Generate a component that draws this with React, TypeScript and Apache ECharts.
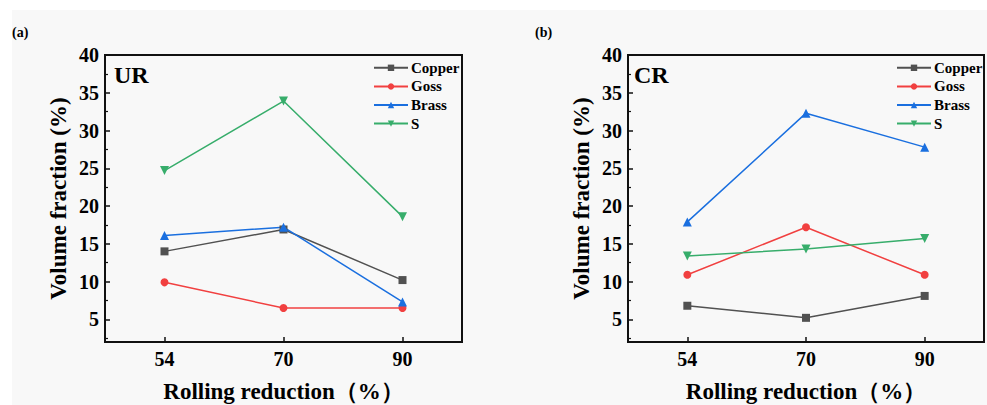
import React, { useEffect, useRef } from "react";
import * as echarts from "echarts";

const categories = ["54", "70", "90"];
const seriesNames = ["Copper", "Goss", "Brass", "S"];
const urCopper = [14.0, 16.9, 10.2];
const urGoss = [9.9, 6.5, 6.5];
const urBrass = [16.1, 17.2, 7.3];
const urS = [24.7, 33.9, 18.6];
const crCopper = [6.8, 5.2, 8.1];
const crGoss = [10.9, 17.2, 10.9];
const crBrass = [17.9, 32.3, 27.8];
const crS = [13.4, 14.3, 15.7];
const majorTicks = [5, 10, 15, 20, 25, 30, 35, 40];
const minorTicks = [2.5, 7.5, 12.5, 17.5, 22.5, 27.5, 32.5, 37.5];
const panelLabels = ["(a)", "(b)"];
const panelTags = ["UR", "CR"];

const colors = ["#515151", "#F14040", "#1A6FDF", "#37AD6B"];
const symbols = ["rect", "circle", "triangle", "path://M0,0 L10,0 L5,8.66 Z"];
const FONT = "Liberation Serif";

export default function App() {
  const ref = useRef<HTMLDivElement>(null);
  useEffect(() => {
    if (!ref.current) return;
    const chart = echarts.init(ref.current, undefined, { renderer: "svg" });
    const grids = [
      { left: 105, top: 55, width: 357, height: 287 },
      { left: 628, top: 55, width: 356, height: 287 },
    ];
    const data = [
      [urCopper, urGoss, urBrass, urS],
      [crCopper, crGoss, crBrass, crS],
    ];
    const xAxis: any[] = [];
    const yAxis: any[] = [];
    const series: any[] = [];
    const legend: any[] = [];
    grids.forEach((g, gi) => {
      xAxis.push({
        type: "category",
        gridIndex: gi,
        data: categories,
        boundaryGap: true,
        name: "Rolling reduction（%）",
        nameLocation: "middle",
        nameGap: 38,
        nameTextStyle: { fontFamily: FONT, fontWeight: "bold", fontSize: 23, color: "#000" },
        axisLine: { lineStyle: { color: "#111", width: 2 } },
        axisTick: { show: true, inside: true, alignWithLabel: true, length: 5, lineStyle: { color: "#111", width: 1.5 } },
        axisLabel: { fontFamily: FONT, fontWeight: "bold", fontSize: 20, color: "#000", margin: 7 },
        splitLine: { show: false },
      });
      yAxis.push({
        type: "value",
        gridIndex: gi,
        position: "left",
        min: 2,
        max: 40,
        name: "Volume fraction (%)",
        nameLocation: "middle",
        nameGap: 35,
        nameRotate: 90,
        nameTextStyle: { fontFamily: FONT, fontWeight: "bold", fontSize: 23, color: "#000" },
        axisLine: { show: true, lineStyle: { color: "#111", width: 2 } },
        axisTick: { show: true, inside: true, length: 5, customValues: majorTicks, lineStyle: { color: "#111", width: 1.5 } },
        axisLabel: { customValues: majorTicks, fontFamily: FONT, fontWeight: "bold", fontSize: 20, color: "#000", margin: 6 },
        splitLine: { show: false },
      });
      yAxis.push({
        type: "value",
        gridIndex: gi,
        position: "left",
        min: 2,
        max: 40,
        axisLine: { show: false },
        axisTick: { show: true, inside: true, length: 3, customValues: minorTicks, lineStyle: { color: "#111", width: 1.2 } },
        axisLabel: { show: false },
        splitLine: { show: false },
      });
      data[gi].forEach((vals, si) => {
        series.push({
          type: "line",
          name: seriesNames[si],
          xAxisIndex: gi,
          yAxisIndex: gi * 2,
          data: vals,
          symbol: symbols[si],
          symbolSize: si >= 2 ? 9 : 8,
          color: colors[si],
          lineStyle: { width: 1.5, color: colors[si] },
          itemStyle: { color: colors[si] },
        });
      });
      legend.push({
        orient: "vertical",
        left: gi === 0 ? 373 : 896,
        top: 60,
        padding: 0,
        itemWidth: 34,
        itemHeight: 8,
        itemGap: 3,
        data: seriesNames.map((n) => ({ name: n })),
        textStyle: { fontFamily: FONT, fontWeight: "bold", fontSize: 15, color: "#000", lineHeight: 15.6, padding: [0, 0, 0, -2] },
        selectedMode: false,
      });
    });
    chart.setOption({
      animation: false,
      backgroundColor: "#ffffff",
      grid: grids.map((g) => ({ ...g, outerBoundsMode: "none", containLabel: false, show: true, borderColor: "#111", borderWidth: 2, backgroundColor: "transparent" })),
      xAxis,
      yAxis,
      series,
      legend,
      graphic: [
        { type: "rect", z: -10, shape: { x: 12, y: 10, width: 975, height: 395 }, style: { fill: "#f8f8f8" }, silent: true },
        ...panelLabels.map((t, i) => ({
          type: "text",
          x: i === 0 ? 12 : 535,
          y: 32,
          style: { text: t, fontFamily: FONT, fontWeight: "bold", fontSize: 14, fill: "#000", verticalAlign: "middle" },
        })),
        ...panelTags.map((t, i) => ({
          type: "text",
          x: i === 0 ? 114 : 634,
          y: 75,
          style: { text: t, fontFamily: FONT, fontWeight: "bold", fontSize: 24, fill: "#000", verticalAlign: "middle" },
        })),
      ],
    });
    return () => chart.dispose();
  }, []);
  return <div ref={ref} style={{ position: "fixed", left: 0, top: 0, width: 987, height: 405 }} />;
}
